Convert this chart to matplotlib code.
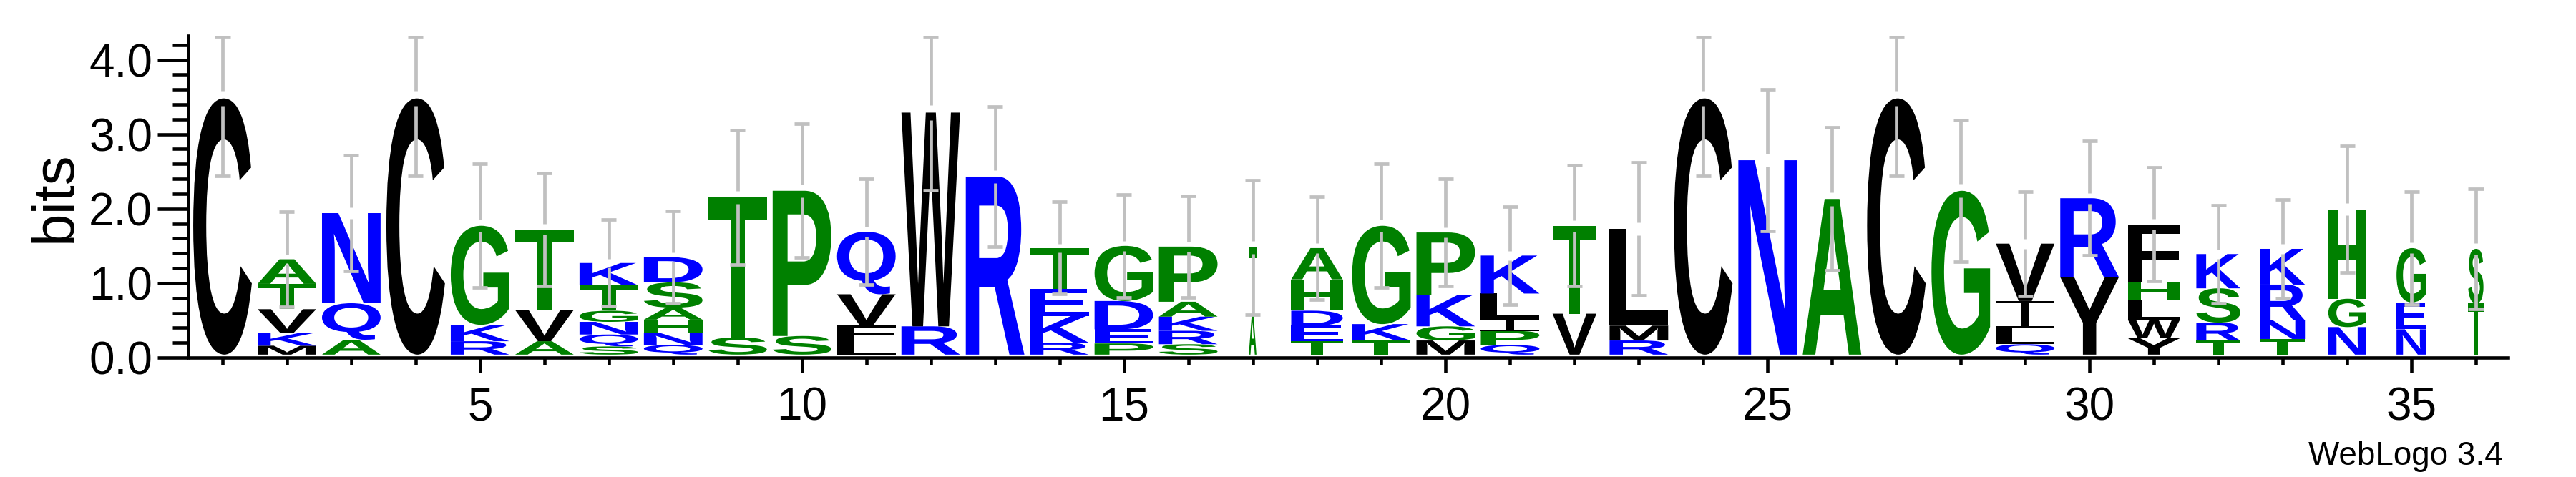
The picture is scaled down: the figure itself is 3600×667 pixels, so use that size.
import numpy as np
import matplotlib
matplotlib.use("Agg")
import matplotlib.pyplot as plt
from matplotlib.textpath import TextPath
from matplotlib.font_manager import FontProperties
from matplotlib.patches import PathPatch
from matplotlib.path import Path
from matplotlib.transforms import Affine2D

# letters of each stack (bottom -> top) and their heights in bits
stack_letters = [
    "C", "MKVTA", "AQN", "C", "RKG", "AVT", "SQNGTK", "QNHASD", "ST", "SP",
    "LFVQ", "RW", "R", "RKET", "PEDG", "SRKAP", "AT", "TEDHA", "TKG", "MGKP",
    "QPILK", "VT", "RML", "C", "N", "A", "C", "G", "QLIV", "YR",
    "YWLHF", "TRSK", "TNRK", "NGH", "NEG", "TS",
]
stack_heights = [
    [3.44], [0.12, 0.17, 0.32, 0.34, 0.33], [0.20, 0.49, 1.21], [3.44],
    [0.18, 0.22, 1.33], [0.18, 0.42, 1.08], [0.11, 0.16, 0.17, 0.15, 0.34, 0.30],
    [0.13, 0.16, 0.18, 0.16, 0.34, 0.34], [0.23, 1.88], [0.25, 1.95],
    [0.19, 0.20, 0.42, 0.84], [0.38, 2.87], [2.39], [0.16, 0.36, 0.36, 0.55],
    [0.15, 0.19, 0.38, 0.74], [0.14, 0.18, 0.19, 0.20, 0.74], [0.52, 0.92],
    [0.18, 0.21, 0.20, 0.42, 0.42], [0.19, 0.22, 1.32], [0.19, 0.19, 0.42, 0.84],
    [0.13, 0.19, 0.16, 0.34, 0.51], [0.55, 1.18], [0.19, 0.20, 1.30], [3.44],
    [2.61], [2.09], [3.44], [2.20], [0.14, 0.21, 0.37, 0.77], [1.04, 1.06],
    [0.22, 0.25, 0.26, 0.25, 0.77], [0.19, 0.24, 0.46, 0.46],
    [0.21, 0.25, 0.48, 0.48], [0.37, 0.38, 1.20], [0.34, 0.36, 0.73], [0.69, 0.73],
]
# fraction of full stack width (column occupancy)
stack_width = [
    1, 1, 1, 1, 1, 1, 1, 1, 1, 1, 1, 1, 1, 1, 1, 1, 0.13, 0.88,
    1, 1, 1, 0.75, 1, 1, 1, 1, 1, 1, 1, 1, 0.89, 0.75, 0.76, 0.64, 0.51, 0.26,
]
# half length of the error bars (bits)
stack_err = [
    1.04, 0.64, 0.78, 1.04, 0.83, 0.76, 0.58, 0.62, 0.90, 0.90, 0.71, 1.04,
    0.94, 0.62, 0.69, 0.68, 0.90, 0.69, 0.83, 0.72, 0.66, 0.81, 0.89, 1.04,
    0.95, 0.96, 1.04, 0.95, 0.70, 0.77, 0.76, 0.66, 0.66, 0.85, 0.76, 0.81,
]

colors = {}
for ch in "CVLIMWFY":
    colors[ch] = "black"
for ch in "AGTSPH":
    colors[ch] = "#008000"
for ch in "NQKRDE":
    colors[ch] = "#0000ff"

plt.rcParams["font.family"] = ["Liberation Sans", "DejaVu Sans"]

ymax = np.log2(20)
base = 0.04          # stacks sit slightly above the axis line
full_w = 0.91        # width of a full stack
fp = FontProperties(family="Liberation Sans", weight="bold")

_cache = {}


def unit_letter(ch):
    # glyph path normalised to the unit square
    if ch in _cache:
        return _cache[ch]
    if ch == "I":
        verts, codes = [], []
        for x0, y0, x1, y1 in [(0, 0, 1, 0.08), (0, 0.92, 1, 1), (0.43, 0.08, 0.57, 0.92)]:
            verts += [(x0, y0), (x1, y0), (x1, y1), (x0, y1), (x0, y0)]
            codes += [Path.MOVETO, Path.LINETO, Path.LINETO, Path.LINETO, Path.CLOSEPOLY]
        p = Path(verts, codes)
    else:
        tp = TextPath((0, 0), ch, size=1, prop=fp)
        ext = tp.get_extents()
        p = tp.transformed(Affine2D().translate(-ext.x0, -ext.y0)
                           .scale(1 / ext.width, 1 / ext.height))
    _cache[ch] = p
    return p


fig = plt.figure(figsize=(36, 6.67), dpi=100)
ax = fig.add_axes([266 / 3600, 167 / 667, 3239 / 3600, 450 / 667])

tops = []
for i, (letters, heights) in enumerate(zip(stack_letters, stack_heights)):
    pos = i + 1
    w = full_w * stack_width[i]
    y = base
    for ch, h in zip(letters, heights):
        path = unit_letter(ch).transformed(Affine2D().scale(w, h).translate(pos - w / 2, y))
        ax.add_patch(PathPatch(path, fc=colors[ch], ec="none", lw=0, zorder=2))
        y += h
    tops.append(y)

# error bars, drawn with a small gap around the stack top
pos = np.arange(1, len(tops) + 1)
tops = np.array(tops)
err = np.array(stack_err)
gap = 0.095 * err
up_hi = np.minimum(tops + err, ymax - 0.01)
lo_lo = tops - err
grey = "#c0c0c0"
ax.vlines(pos, tops + gap, up_hi, color=grey, lw=3.4, zorder=3)
ax.vlines(pos, lo_lo, tops - gap, color=grey, lw=3.4, zorder=3)
ax.hlines(up_hi, pos - 0.117, pos + 0.117, color=grey, lw=3.4, zorder=3)
ax.hlines(lo_lo, pos - 0.117, pos + 0.117, color=grey, lw=3.4, zorder=3)

ax.set_xlim(0.5, 36.5)
ax.set_ylim(0, ymax)
ax.spines["top"].set_visible(False)
ax.spines["right"].set_visible(False)
ax.spines["left"].set_position(("outward", 2))
for s in ("left", "bottom"):
    ax.spines[s].set_linewidth(3.3)

ax.set_xticks(range(5, 36, 5))
ax.set_xticks(range(1, 37), minor=True)
ax.set_yticks([0, 1, 2, 3, 4])
ax.set_yticks(np.arange(0, 4.3, 0.2), minor=True)
ax.set_yticklabels(["%.1f" % v for v in [0, 1, 2, 3, 4]])

ax.tick_params(axis="y", which="major", length=31, width=3.3, labelsize=46, pad=5)
ax.tick_params(axis="y", which="minor", length=16, width=3.3)
ax.tick_params(axis="x", which="major", length=15, width=3.3, labelsize=46, pad=14)
ax.tick_params(axis="x", which="minor", length=7, width=3.3)

fig.text(78 / 3600, 1 - 275 / 667, "bits", rotation=90, ha="center", va="center", fontsize=59)
fig.text(3498 / 3600, 17 / 667, "WebLogo 3.4", ha="right", va="baseline", fontsize=33)

fig.savefig("out.png", dpi=100)
